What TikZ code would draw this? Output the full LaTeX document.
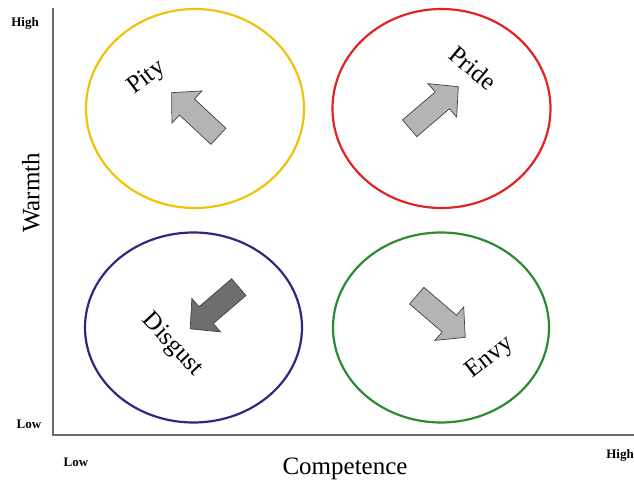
\documentclass[tikz,border=0pt]{standalone}
\usepackage{fontspec}
\setmainfont{Liberation Serif}
\usetikzlibrary{shapes.geometric}
\definecolor{cyellow}{HTML}{F0C20A}
\definecolor{cred}{HTML}{E02424}
\definecolor{cblue}{HTML}{2A2A7E}
\definecolor{cgreen}{HTML}{2C8A34}
\definecolor{lightgrey}{HTML}{B4B4B4}
\definecolor{darkgrey}{HTML}{6E6E6E}
\definecolor{axisgrey}{HTML}{6A6A6A}
\tikzset{
  quad/.style={ellipse, line width=2.2pt, inner sep=0pt},
  blockarrow/.style={draw=black!75, line width=0.7pt, line join=miter},
  biglabel/.style={font=\fontsize{25}{28}\selectfont, inner sep=0pt},
  smalllabel/.style={font=\fontsize{13}{15}\selectfont\bfseries, inner sep=0pt},
  axisline/.style={draw=axisgrey, line width=1.3pt}
}
\newcommand{\blockarr}[3]{%
  \begin{scope}[shift={#1}, rotate=#2]
    \filldraw[blockarrow, fill=#3] (-32pt,-11pt) -- (11pt,-11pt) -- (11pt,-22pt) -- (32pt,0pt) -- (11pt,22pt) -- (11pt,11pt) -- (-32pt,11pt) -- cycle;
  \end{scope}}
\begin{document}
\begin{tikzpicture}[x=1pt,y=1pt]
\useasboundingbox (0,0) rectangle (634,485);
% axes
\coordinate (top) at (53,477);
\coordinate (origin) at (53,50);
\coordinate (right) at (634,50);
\draw[axisline] (top) -- (origin) -- (right);
% axis labels
\node[smalllabel] (yhigh) at (25,462) {High};
\node[smalllabel] (ylow) at (29,61) {Low};
\node[smalllabel] (xlow) at (76,23) {Low};
\node[smalllabel, anchor=east] (xhigh) at (634,30) {High};
\node[biglabel] (comp) at (345,16) {Competence};
\node[biglabel, rotate=90] (warmth) at (31,292) {Warmth};
% circles
\node[quad, draw=cyellow, minimum width=218pt, minimum height=199pt] (pitycircle) at (195,376.5) {};
\node[quad, draw=cred, minimum width=218pt, minimum height=199pt] (pridecircle) at (441.5,376.5) {};
\node[quad, draw=cblue, minimum width=217pt, minimum height=190pt] (disgustcircle) at (193.5,157.5) {};
\node[quad, draw=cgreen, minimum width=216pt, minimum height=190pt] (envycircle) at (441,157.5) {};
% arrows
\blockarr{(195,370.5)}{137}{lightgrey}
\blockarr{(434,377.5)}{40.5}{lightgrey}
\blockarr{(214.5,177)}{220.6}{darkgrey}
\blockarr{(441,168.5)}{-40.7}{lightgrey}
% emotion labels
\node[biglabel, rotate=37] (pity) at (147,407) {Pity};
\node[biglabel, rotate=-40] (pride) at (473,417) {Pride};
\node[biglabel, rotate=-47] (disgust) at (172,140) {Disgust};
\node[biglabel, rotate=38] (envy) at (490,127) {Envy};
\end{tikzpicture}
\end{document}
